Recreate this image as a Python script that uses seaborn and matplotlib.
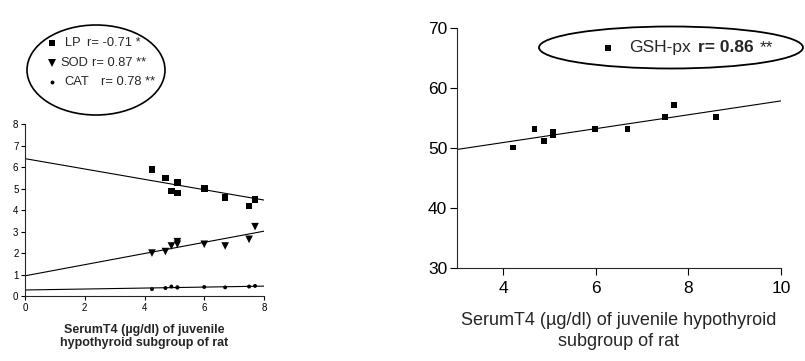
import matplotlib
matplotlib.use("Agg")
import matplotlib.pyplot as plt
import seaborn as sns
from matplotlib.patches import Ellipse
from matplotlib.lines import Line2D

# ---------------- data ----------------
t4_left = [4.25, 4.7, 4.9, 5.1, 5.1, 6.0, 6.7, 7.5, 7.7]
lp = [5.9, 5.5, 4.9, 5.3, 4.8, 5.0, 4.6, 4.2, 4.5]
sod = [2.0, 2.07, 2.33, 2.53, 2.41, 2.41, 2.33, 2.64, 3.23]
cat = [0.32, 0.37, 0.44, 0.40, 0.40, 0.42, 0.40, 0.44, 0.47]
fit_x_left = [0, 8]
lp_fit = [6.4, 4.47]
sod_fit = [0.94, 3.02]
cat_fit = [0.28, 0.46]

t4_right = [4.22, 4.68, 4.88, 5.08, 5.08, 5.99, 6.69, 7.5, 7.69, 8.6]
gsh = [50.0, 53.1, 51.1, 52.7, 52.0, 53.1, 53.1, 55.1, 57.1, 55.1]
fit_x_right = [3, 10]
gsh_fit = [49.7, 57.8]

left_xticks = [0, 2, 4, 6, 8]
left_yticks = [0, 1, 2, 3, 4, 5, 6, 7, 8]
right_xticks = [4, 6, 8, 10]
right_yticks = [30, 40, 50, 60, 70]

xlabel_left = "SerumT4 (µg/dl) of juvenile\nhypothyroid subgroup of rat"
xlabel_right = "SerumT4 (µg/dl) of juvenile hypothyroid\nsubgroup of rat"

# ---------------- style ----------------
sns.set_style("ticks")
plt.rcParams["font.family"] = ["Liberation Sans", "DejaVu Sans"]
plt.rcParams["axes.linewidth"] = 0.8

W, H = 805, 361
fig = plt.figure(figsize=(W / 100, H / 100), dpi=100)

def fx(px):
    return px / W

def fy(py):
    return 1 - py / H

# ---------------- left panel ----------------
axL = fig.add_axes([fx(25), fy(296), 239 / W, 171.7 / H])
axL.set_xlim(0, 8)
axL.set_ylim(0, 8)
for yv in (lp_fit, sod_fit, cat_fit):
    sns.lineplot(x=fit_x_left, y=yv, ax=axL, color="black", lw=0.8, estimator=None)
sns.scatterplot(x=t4_left, y=lp, ax=axL, marker="s", s=22, color="black", edgecolor="none")
sns.scatterplot(x=t4_left, y=sod, ax=axL, marker="v", s=30, color="black", edgecolor="none")
sns.scatterplot(x=t4_left, y=cat, ax=axL, marker="o", s=8, color="black", edgecolor="none")
axL.set_xticks(left_xticks)
axL.set_yticks(left_yticks)
axL.tick_params(labelsize=7, length=3.2, width=0.8, pad=1.5, colors="black")
sns.despine(ax=axL)
axL.set_xlabel(xlabel_left, fontsize=9, fontweight="bold", labelpad=8, linespacing=1.15)
axL.set_ylabel("")

# ---------------- right panel ----------------
axR = fig.add_axes([fx(456.7), fy(267.7), 324.3 / W, 240 / H])
axR.set_xlim(3, 10)
axR.set_ylim(30, 70)
sns.lineplot(x=fit_x_right, y=gsh_fit, ax=axR, color="black", lw=0.8, estimator=None)
sns.scatterplot(x=t4_right, y=gsh, ax=axR, marker="s", s=16, color="black", edgecolor="none")
axR.set_xticks(right_xticks)
axR.set_yticks(right_yticks)
axR.tick_params(labelsize=12.5, length=4.8, width=0.8, pad=2, colors="black")
axR.tick_params(axis="x", pad=4.5)
sns.despine(ax=axR)
axR.set_xlabel(xlabel_right, fontsize=13, labelpad=12, linespacing=1.3)
axR.set_ylabel("")

# ---------------- legend ellipses ----------------
fig.add_artist(Ellipse((fx(96), fy(70)), 138 / W, 90 / H, transform=fig.transFigure,
                       fill=False, lw=1.2, color="black"))
fig.add_artist(Ellipse((fx(671), fy(47.5)), 264 / W, 42 / H, transform=fig.transFigure,
                       fill=False, lw=1.3, color="black"))

def mk(px, py, marker, ms):
    fig.add_artist(Line2D([fx(px)], [fy(py)], marker=marker, markersize=ms, color="black",
                          markeredgewidth=0, linestyle="none", transform=fig.transFigure))

mk(52, 43, "s", 4.5)
mk(52, 63, "v", 6)
mk(52, 82, "o", 2.8)
fs = 9.3
fig.text(fx(65), fy(43), "LP", fontsize=fs, va="center")
fig.text(fx(87), fy(43), "r= -0.71 *", fontsize=fs, va="center")
fig.text(fx(60), fy(63), "SOD", fontsize=fs, va="center")
fig.text(fx(92), fy(63), "r= 0.87 **", fontsize=fs, va="center")
fig.text(fx(64), fy(82), "CAT", fontsize=fs, va="center")
fig.text(fx(100.5), fy(82), "r= 0.78 **", fontsize=fs, va="center")

mk(608, 47.5, "s", 4)
fig.text(fx(629), fy(47.5), "GSH-px", fontsize=12.5, va="center")
fig.text(fx(698), fy(47.5), "r= 0.86", fontsize=12.5, va="center", fontweight="bold")
fig.text(fx(760), fy(47.5), "**", fontsize=12.5, va="center")

fig.savefig("out.png", dpi=100)
